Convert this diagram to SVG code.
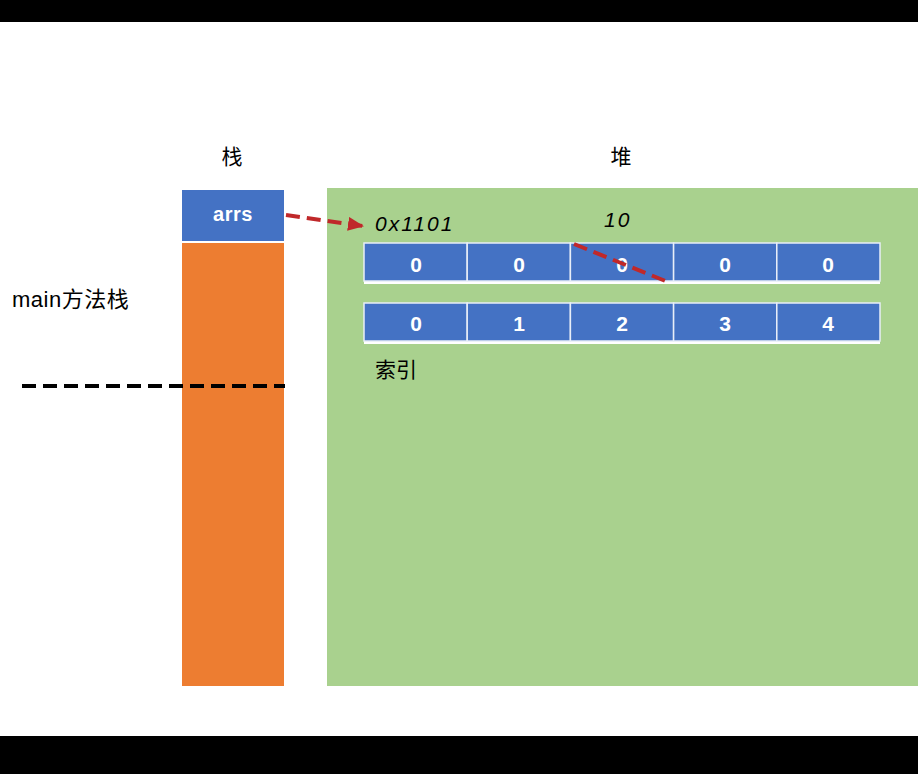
<svg xmlns="http://www.w3.org/2000/svg" width="918" height="774" viewBox="0 0 918 774">
<defs>
<style>
.cell{fill:#4472C4;stroke:#E8EEF8;stroke-width:1.5}
.ct{font-family:"Liberation Sans",Arial,sans-serif;font-weight:bold;font-size:21px;fill:#fff;text-anchor:middle}
.lbl{font-family:"Liberation Sans","Noto Sans CJK SC",sans-serif;font-size:21px;fill:#000}
.it{font-family:"Liberation Sans",sans-serif;font-style:italic;font-size:21px;letter-spacing:2px;fill:#000}
.red{stroke:#C0282A;stroke-width:4;stroke-dasharray:14,7;fill:none}
</style>
<marker id="ah" markerWidth="16" markerHeight="14" refX="15" refY="7" orient="auto" markerUnits="userSpaceOnUse">
<path d="M0,0 L16,7 L0,14 z" fill="#C0282A"/>
</marker>
</defs>
<rect x="0" y="0" width="918" height="774" fill="#fff"/>
<rect x="0" y="0" width="918" height="22" fill="#000"/>
<rect x="0" y="736" width="918" height="38" fill="#000"/>
<g id="stack">
<rect x="182" y="243" width="102" height="443" fill="#ED7D31"/>
<text class="lbl" x="232" y="164" text-anchor="middle">栈</text>
</g>
<g id="arrs">
<rect x="182" y="190" width="102" height="51" fill="#4472C4"/>
<text class="ct" x="233" y="221" style="font-size:20px;letter-spacing:0.5px">arrs</text>
</g>
<g id="heap">
<rect x="327" y="188" width="591" height="498" fill="#A9D18E"/>
<text class="lbl" x="621" y="164" text-anchor="middle">堆</text>
<text class="it" x="375" y="231">0x1101</text>
<text class="it" x="604" y="227">10</text>
<text class="lbl" x="375" y="377">索引</text>
</g>
<g id="main-label">
<text class="lbl" x="12" y="307" style="font-size:22px;letter-spacing:0.5px">main方法栈</text>
</g>
<g id="array">
<rect x="364" y="281" width="516" height="3" fill="#fff"/>
<rect class="cell" x="364" y="243" width="103.2" height="38"/>
<rect class="cell" x="467.2" y="243" width="103.2" height="38"/>
<rect class="cell" x="570.4" y="243" width="103.2" height="38"/>
<rect class="cell" x="673.6" y="243" width="103.2" height="38"/>
<rect class="cell" x="776.8" y="243" width="103.2" height="38"/>
<text class="ct" x="416" y="272">0</text>
<text class="ct" x="519" y="272">0</text>
<text class="ct" x="622" y="272">0</text>
<text class="ct" x="725" y="272">0</text>
<text class="ct" x="828" y="272">0</text>
</g>
<g id="index">
<rect x="364" y="341" width="516" height="3" fill="#fff"/>
<rect class="cell" x="364" y="303" width="103.2" height="38"/>
<rect class="cell" x="467.2" y="303" width="103.2" height="38"/>
<rect class="cell" x="570.4" y="303" width="103.2" height="38"/>
<rect class="cell" x="673.6" y="303" width="103.2" height="38"/>
<rect class="cell" x="776.8" y="303" width="103.2" height="38"/>
<text class="ct" x="416" y="331">0</text>
<text class="ct" x="519" y="331">1</text>
<text class="ct" x="622" y="331">2</text>
<text class="ct" x="725" y="331">3</text>
<text class="ct" x="828" y="331">4</text>
</g>
<g id="connectors">
<line x1="286" y1="215" x2="363" y2="226" class="red" marker-end="url(#ah)"/>
<line x1="574" y1="244" x2="668" y2="282" class="red"/>
<line x1="22" y1="386" x2="285" y2="386" stroke="#000" stroke-width="4" stroke-dasharray="14,7"/>
</g>
</svg>
